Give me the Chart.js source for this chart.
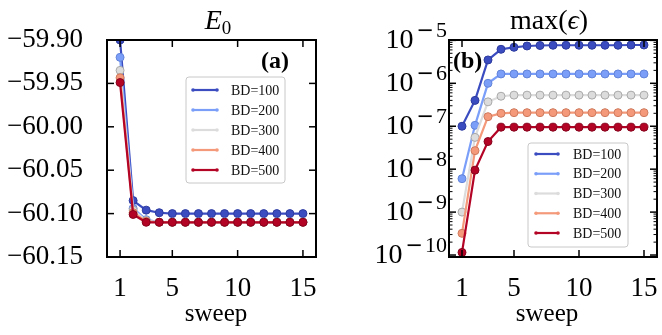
<!DOCTYPE html>
<html>
<head>
<meta charset="utf-8">
<script src="https://cdn.jsdelivr.net/npm/chart.js@4.4.0/dist/chart.umd.min.js"></script>
<style>
html, body { margin: 0; padding: 0; background: #fff; }
#wrap { position: relative; width: 662px; height: 335px; overflow: hidden; }
canvas { position: absolute; top: 0; }
#c1 { left: 0; }
#c2 { left: 331px; }
</style>
</head>
<body>
<div id="wrap">
  <canvas id="c1" width="331" height="335"></canvas>
  <canvas id="c2" width="331" height="335"></canvas>
</div>
<script>
const SERIF = "'Liberation Serif', 'Times New Roman', serif";

const sweeps = [1, 2, 3, 4, 5, 6, 7, 8, 9, 10, 11, 12, 13, 14, 15];
const xTicks = [1, 5, 10, 15];
const e0Ticks = [-59.90, -59.95, -60.00, -60.05, -60.10, -60.15];
const errExps = [-5, -6, -7, -8, -9, -10];

const bdLabels = ['BD=100', 'BD=200', 'BD=300', 'BD=400', 'BD=500'];
const bdColors = ['#3b4cc0', '#7b9ff9', '#dddcdc', '#f49a7b', '#b40426'];
const bdEdges  = ['#2d3b9e', '#6283d8', '#a9a9a9', '#cf7a5d', '#86031c'];

// ground state energy per sweep
const e0_100 = [-59.900, -60.085, -60.096, -60.099, -60.100, -60.100, -60.100, -60.100, -60.100, -60.100, -60.100, -60.100, -60.100, -60.100, -60.100];
const e0_200 = [-59.920, -60.094, -60.107, -60.110, -60.110, -60.110, -60.110, -60.110, -60.110, -60.110, -60.110, -60.110, -60.110, -60.110, -60.110];
const e0_300 = [-59.935, -60.096, -60.108, -60.110, -60.110, -60.110, -60.110, -60.110, -60.110, -60.110, -60.110, -60.110, -60.110, -60.110, -60.110];
const e0_400 = [-59.9435, -60.099, -60.109, -60.110, -60.110, -60.110, -60.110, -60.110, -60.110, -60.110, -60.110, -60.110, -60.110, -60.110, -60.110];
const e0_500 = [-59.949, -60.101, -60.110, -60.110, -60.110, -60.110, -60.110, -60.110, -60.110, -60.110, -60.110, -60.110, -60.110, -60.110, -60.110];

// max truncation error per sweep
const err_100 = [1e-7, 4e-7, 3.5e-6, 6.2e-6, 6.9e-6, 7.4e-6, 7.6e-6, 7.7e-6, 7.7e-6, 7.7e-6, 7.7e-6, 7.7e-6, 7.7e-6, 7.8e-6, 7.8e-6];
const err_200 = [6e-9, 1.05e-7, 1e-6, 1.65e-6, 1.65e-6, 1.65e-6, 1.65e-6, 1.65e-6, 1.65e-6, 1.65e-6, 1.65e-6, 1.65e-6, 1.65e-6, 1.65e-6, 1.65e-6];
const err_300 = [1e-9, 5.5e-8, 3.7e-7, 5.0e-7, 5.3e-7, 5.3e-7, 5.3e-7, 5.3e-7, 5.3e-7, 5.3e-7, 5.3e-7, 5.3e-7, 5.3e-7, 5.3e-7, 5.3e-7];
const err_400 = [3.2e-10, 2.7e-8, 1.67e-7, 2.0e-7, 2.07e-7, 2.07e-7, 2.07e-7, 2.07e-7, 2.07e-7, 2.07e-7, 2.07e-7, 2.07e-7, 2.07e-7, 2.07e-7, 2.07e-7];
const err_500 = [1.15e-10, 9.5e-9, 4.4e-8, 9.5e-8, 9.5e-8, 9.5e-8, 9.5e-8, 9.5e-8, 9.5e-8, 9.5e-8, 9.5e-8, 9.5e-8, 9.5e-8, 9.5e-8, 9.5e-8];

function makeSets(series) {
    return series.map((vals, i) => ({
        label: bdLabels[i],
        data: vals.map((v, j) => ({ x: sweeps[j], y: v })),
        borderColor: bdColors[i],
        backgroundColor: bdColors[i],
        pointBackgroundColor: bdColors[i],
        pointBorderColor: bdEdges[i],
        pointBorderWidth: 1,
        pointRadius: 4,
        borderWidth: 2.2,
        tension: 0,
        order: series.length - i   // red drawn last, on top
    }));
}

function line(ctx, x1, y1, x2, y2) {
    ctx.beginPath();
    ctx.moveTo(x1, y1);
    ctx.lineTo(x2, y2);
    ctx.stroke();
}

// frame, inward ticks, legend, titles
const panelPlugin = {
    id: 'panel',
    afterDraw(chart, args, o) {
        const { ctx, chartArea: a } = chart;
        const xs = chart.scales.x, ys = chart.scales.y;
        ctx.save();
        ctx.strokeStyle = '#000';
        ctx.lineWidth = 1.5;

        xTicks.forEach(v => {
            const p = xs.getPixelForValue(v);
            line(ctx, p, a.bottom, p, a.bottom - 7);
            line(ctx, p, a.top, p, a.top + 7);
        });
        o.yTicks.forEach(v => {
            const p = ys.getPixelForValue(v);
            line(ctx, a.left, p, a.left + 7, p);
            line(ctx, a.right, p, a.right - 7, p);
        });
        if (o.minor) {
            ctx.lineWidth = 1;
            for (let k = -11; k <= -5; k++) {
                for (let m = 2; m <= 9; m++) {
                    const v = m * Math.pow(10, k);
                    if (v < ys.min || v > ys.max) continue;
                    const p = ys.getPixelForValue(v);
                    line(ctx, a.left, p, a.left + 3.5, p);
                    line(ctx, a.right, p, a.right - 3.5, p);
                }
            }
        }
        ctx.lineWidth = 2;
        ctx.strokeRect(a.left, a.top, a.right - a.left, a.bottom - a.top);

        // log tick labels: 10 with a raised exponent
        if (o.expLabels) {
            ctx.fillStyle = '#000';
            ctx.textAlign = 'right';
            ctx.textBaseline = 'alphabetic';
            o.expLabels.forEach(e => {
                const p = ys.getPixelForValue(Math.pow(10, e));
                let right = a.left - 2;
                ctx.font = '22px ' + SERIF;
                const digits = String(Math.abs(e));
                ctx.fillText(digits, right, p - 3);
                right -= ctx.measureText(digits).width + 2;
                ctx.font = "21px 'DejaVu Sans', sans-serif";
                ctx.fillText('\u2212', right, p - 3);
                right -= ctx.measureText('\u2212').width + 3;
                ctx.font = '28px ' + SERIF;
                ctx.fillText('10', right, p + 8);
            });
        }

        // legend
        const L = o.legend;
        ctx.fillStyle = 'rgba(255,255,255,0.85)';
        ctx.strokeStyle = '#c8c8c8';
        ctx.lineWidth = 1;
        ctx.beginPath();
        ctx.roundRect(L.x, L.y, L.w, L.h, 3);
        ctx.fill();
        ctx.stroke();
        ctx.font = '14px ' + SERIF;
        ctx.textAlign = 'left';
        ctx.textBaseline = 'middle';
        chart.data.datasets.forEach((ds, i) => {
            const y = L.row0 + i * L.step;
            ctx.strokeStyle = ds.borderColor;
            ctx.lineWidth = 2.2;
            line(ctx, L.lx1, y, L.lx2, y);
            ctx.fillStyle = ds.borderColor;
            [L.lx1, L.lx2].forEach(px => {
                ctx.beginPath();
                ctx.arc(px, y, 1.8, 0, Math.PI * 2);
                ctx.fill();
            });
            ctx.fillStyle = '#111';
            ctx.fillText(ds.label, L.tx, y + 1);
        });

        // panel tag
        ctx.fillStyle = '#000';
        ctx.font = 'bold 24px ' + SERIF;
        ctx.textBaseline = 'middle';
        ctx.textAlign = 'left';
        ctx.fillText(o.tag.text, o.tag.x, o.tag.y);

        // title
        ctx.textBaseline = 'alphabetic';
        const parts = o.title;
        let total = 0;
        parts.forEach(pt => { ctx.font = pt.font; total += ctx.measureText(pt.t).width; });
        let cx = o.titleX - total / 2;
        parts.forEach(pt => {
            ctx.font = pt.font;
            ctx.fillText(pt.t, cx, 29 + (pt.dy || 0));
            cx += ctx.measureText(pt.t).width;
        });

        // x axis title
        ctx.font = '25px ' + SERIF;
        ctx.textAlign = 'center';
        ctx.fillText('sweep', o.titleX - 2, 321);
        ctx.restore();
    }
};

function makeChart(id, yScale, series, padRight, yWidth, panel) {
    return new Chart(document.getElementById(id), {
        type: 'line',
        data: { datasets: makeSets(series) },
        plugins: [panelPlugin],
        options: {
            responsive: false,
            animation: false,
            devicePixelRatio: 1,
            layout: { padding: { top: 40, right: padRight, left: 0, bottom: 0 } },
            plugins: {
                legend: { display: false },
                tooltip: { enabled: false },
                panel: panel
            },
            scales: {
                x: {
                    type: 'linear',
                    min: 0,
                    max: 16,
                    grid: { display: false, drawTicks: false },
                    border: { display: false },
                    afterBuildTicks: s => { s.ticks = xTicks.map(v => ({ value: v })); },
                    afterFit: s => { s.height = 78; s.paddingLeft = 0; s.paddingRight = 0; },
                    ticks: {
                        padding: 16,
                        autoSkip: false,
                        maxRotation: 0,
                        color: '#000',
                        font: { family: SERIF, size: 27 }
                    }
                },
                y: Object.assign({
                    grid: { display: false, drawTicks: false },
                    border: { display: false },
                    afterFit: s => { s.width = yWidth; s.paddingTop = 0; s.paddingBottom = 0; }
                }, yScale)
            }
        }
    });
}

makeChart('c1', {
    type: 'linear',
    min: -60.15,
    max: -59.90,
    afterBuildTicks: s => { s.ticks = e0Ticks.map(v => ({ value: v })); },
    ticks: {
        padding: 24,
        color: '#000',
        font: { family: SERIF, size: 27 },
        callback: v => v.toFixed(2).replace('-', '\u2212')
    }
}, [e0_100, e0_200, e0_300, e0_400, e0_500], 15, 107, {
    yTicks: e0Ticks,
    minor: false,
    legend: { x: 186, y: 77, w: 99, h: 106, row0: 90, step: 20, lx1: 193, lx2: 217, tx: 231 },
    tag: { text: '(a)', x: 261, y: 62 },
    titleX: 218,
    title: [
        { t: 'E', font: 'italic 28px ' + SERIF },
        { t: '0', font: '19px ' + SERIF, dy: 5 }
    ]
});

makeChart('c2', {
    type: 'logarithmic',
    min: 9e-11,
    max: 1.02e-5,
    afterBuildTicks: s => { s.ticks = errExps.map(e => ({ value: Math.pow(10, e) })); },
    ticks: { display: false }
}, [err_100, err_200, err_300, err_400, err_500], 0, 118, {
    yTicks: errExps.map(e => Math.pow(10, e)),
    minor: true,
    expLabels: errExps,
    legend: { x: 197, y: 143, w: 100, h: 104, row0: 154, step: 19.75, lx1: 205, lx2: 227, tx: 242 },
    tag: { text: '(b)', x: 122, y: 62 },
    titleX: 218,
    title: [
        { t: 'max(', font: '28px ' + SERIF },
        { t: '\u03f5', font: 'italic 28px ' + SERIF },
        { t: ')', font: '28px ' + SERIF }
    ]
});
</script>
</body>
</html>
